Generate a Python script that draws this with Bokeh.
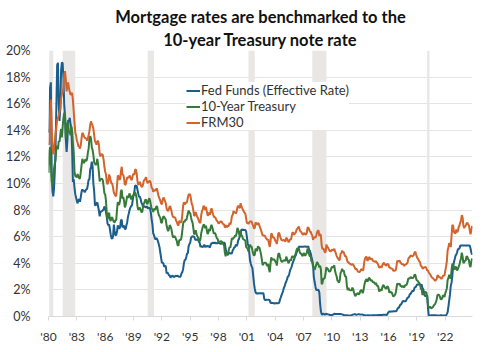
from bokeh.plotting import figure
from bokeh.models import Title, BoxAnnotation, FixedTicker, Legend, LegendItem
from bokeh.embed import file_html
from bokeh.resources import INLINE
import numpy as np

start_year = 1980

fed_funds = [
    13.82, 14.13, 17.19, 17.61, 10.98, 9.47, 9.03, 9.61, 10.87, 12.81, 15.85, 18.90,
    19.08, 15.93, 14.70, 15.72, 18.52, 19.10, 19.04, 17.82, 15.87, 15.08, 13.31, 12.37,
    13.22, 14.78, 14.68, 14.94, 14.45, 14.15, 12.59, 10.12, 10.31, 9.71, 9.20, 8.95,
    8.68, 8.51, 8.77, 8.80, 8.63, 8.98, 9.37, 9.56, 9.45, 9.48, 9.34, 9.47,
    9.56, 9.59, 9.91, 10.29, 10.32, 11.06, 11.23, 11.64, 11.30, 9.99, 9.43, 8.38,
    8.35, 8.50, 8.58, 8.27, 7.97, 7.53, 7.88, 7.90, 7.92, 7.99, 8.05, 8.27,
    8.14, 7.86, 7.48, 6.99, 6.85, 6.92, 6.56, 6.17, 5.89, 5.85, 6.04, 6.91,
    6.43, 6.10, 6.13, 6.37, 6.85, 6.73, 6.58, 6.73, 7.22, 7.29, 6.69, 6.77,
    6.83, 6.58, 6.58, 6.87, 7.09, 7.51, 7.75, 8.01, 8.19, 8.30, 8.35, 8.76,
    9.12, 9.36, 9.85, 9.84, 9.81, 9.53, 9.24, 8.99, 9.02, 8.84, 8.55, 8.45,
    8.23, 8.24, 8.28, 8.26, 8.18, 8.29, 8.15, 8.13, 8.20, 8.11, 7.81, 7.31,
    6.91, 6.25, 6.12, 5.91, 5.78, 5.90, 5.82, 5.66, 5.45, 5.21, 4.81, 4.43,
    4.03, 4.06, 3.98, 3.73, 3.82, 3.76, 3.25, 3.30, 3.22, 3.10, 3.09, 2.92,
    3.02, 3.03, 3.07, 2.96, 3.00, 3.04, 3.06, 3.03, 3.09, 2.99, 3.02, 2.96,
    3.05, 3.25, 3.34, 3.56, 4.01, 4.25, 4.26, 4.47, 4.73, 4.76, 5.29, 5.45,
    5.53, 5.92, 5.98, 6.05, 6.01, 6.00, 5.85, 5.74, 5.80, 5.76, 5.80, 5.60,
    5.56, 5.22, 5.31, 5.22, 5.24, 5.27, 5.40, 5.22, 5.30, 5.24, 5.31, 5.29,
    5.25, 5.19, 5.39, 5.51, 5.50, 5.56, 5.52, 5.54, 5.54, 5.50, 5.52, 5.50,
    5.56, 5.51, 5.49, 5.45, 5.49, 5.56, 5.54, 5.55, 5.51, 5.07, 4.83, 4.68,
    4.63, 4.76, 4.81, 4.74, 4.74, 4.76, 4.99, 5.07, 5.22, 5.20, 5.42, 5.30,
    5.45, 5.73, 5.85, 6.02, 6.27, 6.53, 6.54, 6.50, 6.52, 6.51, 6.51, 6.40,
    5.98, 5.49, 5.31, 4.80, 4.21, 3.97, 3.77, 3.65, 3.07, 2.49, 2.09, 1.82,
    1.73, 1.74, 1.73, 1.75, 1.75, 1.75, 1.73, 1.74, 1.75, 1.75, 1.34, 1.24,
    1.24, 1.26, 1.25, 1.26, 1.26, 1.22, 1.01, 1.03, 1.01, 1.01, 1.00, 0.98,
    1.00, 1.01, 1.00, 1.00, 1.00, 1.03, 1.26, 1.43, 1.61, 1.76, 1.93, 2.16,
    2.28, 2.50, 2.63, 2.79, 3.00, 3.04, 3.26, 3.50, 3.62, 3.78, 4.00, 4.16,
    4.29, 4.49, 4.59, 4.79, 4.94, 4.99, 5.24, 5.25, 5.25, 5.25, 5.25, 5.24,
    5.25, 5.26, 5.26, 5.25, 5.25, 5.25, 5.26, 5.02, 4.94, 4.76, 4.49, 4.24,
    3.94, 2.98, 2.61, 2.28, 1.98, 2.00, 2.01, 2.00, 1.81, 0.97, 0.39, 0.16,
    0.15, 0.22, 0.18, 0.15, 0.18, 0.21, 0.16, 0.16, 0.15, 0.12, 0.12, 0.12,
    0.11, 0.13, 0.16, 0.20, 0.20, 0.18, 0.18, 0.19, 0.19, 0.19, 0.19, 0.18,
    0.17, 0.16, 0.14, 0.10, 0.09, 0.09, 0.07, 0.10, 0.08, 0.07, 0.08, 0.07,
    0.08, 0.10, 0.13, 0.14, 0.16, 0.16, 0.16, 0.13, 0.14, 0.16, 0.16, 0.16,
    0.14, 0.15, 0.14, 0.15, 0.11, 0.09, 0.09, 0.08, 0.08, 0.09, 0.08, 0.09,
    0.07, 0.07, 0.08, 0.09, 0.09, 0.10, 0.09, 0.09, 0.09, 0.09, 0.09, 0.12,
    0.11, 0.11, 0.11, 0.12, 0.12, 0.13, 0.13, 0.14, 0.14, 0.12, 0.12, 0.24,
    0.34, 0.38, 0.36, 0.37, 0.37, 0.38, 0.39, 0.40, 0.40, 0.40, 0.41, 0.54,
    0.65, 0.66, 0.79, 0.90, 0.91, 1.04, 1.15, 1.16, 1.15, 1.15, 1.16, 1.30,
    1.41, 1.42, 1.51, 1.69, 1.70, 1.82, 1.91, 1.91, 1.95, 2.19, 2.20, 2.27,
    2.40, 2.40, 2.41, 2.42, 2.39, 2.38, 2.40, 2.13, 2.04, 1.83, 1.55, 1.55,
    1.55, 1.58, 0.65, 0.05, 0.05, 0.08, 0.09, 0.10, 0.09, 0.09, 0.09, 0.09,
    0.09, 0.08, 0.07, 0.07, 0.06, 0.08, 0.10, 0.09, 0.08, 0.08, 0.08, 0.08,
    0.08, 0.08, 0.20, 0.33, 0.77, 1.21, 1.68, 2.33, 2.56, 3.08, 3.78, 4.10,
    4.33, 4.57, 4.65, 4.83, 5.06, 5.08, 5.12, 5.33, 5.33, 5.33, 5.33, 5.33,
    5.33, 5.33, 5.33, 5.33, 5.33, 5.33, 5.33, 5.33, 5.13, 4.83, 4.64,
]

treasury_10y = [
    10.80, 12.41, 12.75, 11.47, 10.18, 9.78, 10.25, 11.10, 11.51, 11.75, 12.68, 12.84,
    12.57, 13.19, 13.12, 13.68, 14.10, 13.47, 14.28, 14.94, 15.32, 15.15, 13.39, 13.72,
    14.59, 14.43, 13.86, 13.87, 13.62, 14.30, 13.95, 13.06, 12.34, 10.91, 10.55, 10.54,
    10.46, 10.72, 10.51, 10.40, 10.38, 10.85, 11.38, 11.85, 11.65, 11.54, 11.69, 11.83,
    11.67, 11.84, 12.32, 12.63, 13.41, 13.56, 13.36, 12.72, 12.52, 12.16, 11.57, 11.50,
    11.38, 11.51, 11.86, 11.43, 10.85, 10.16, 10.31, 10.33, 10.37, 10.24, 9.78, 9.26,
    9.19, 8.70, 7.78, 7.30, 7.71, 7.80, 7.30, 7.17, 7.45, 7.43, 7.25, 7.11,
    7.08, 7.25, 7.25, 8.02, 8.61, 8.40, 8.45, 8.76, 9.42, 9.52, 8.86, 8.99,
    8.67, 8.21, 8.37, 8.72, 9.09, 8.92, 9.06, 9.26, 8.98, 8.80, 8.96, 9.11,
    9.09, 9.17, 9.36, 9.18, 8.86, 8.28, 8.02, 8.11, 8.19, 8.01, 7.87, 7.84,
    8.21, 8.47, 8.59, 8.79, 8.76, 8.48, 8.47, 8.75, 8.89, 8.72, 8.39, 8.08,
    8.09, 7.85, 8.11, 8.04, 8.07, 8.28, 8.27, 7.90, 7.65, 7.53, 7.42, 7.09,
    7.03, 7.34, 7.54, 7.48, 7.39, 7.26, 6.84, 6.59, 6.42, 6.59, 6.87, 6.77,
    6.60, 6.26, 5.98, 5.97, 6.04, 5.96, 5.81, 5.68, 5.36, 5.33, 5.72, 5.77,
    5.75, 5.97, 6.48, 6.97, 7.18, 7.10, 7.30, 7.24, 7.46, 7.74, 7.96, 7.81,
    7.78, 7.47, 7.20, 7.06, 6.63, 6.17, 6.28, 6.49, 6.20, 6.04, 5.93, 5.71,
    5.65, 5.81, 6.27, 6.51, 6.74, 6.91, 6.87, 6.64, 6.83, 6.53, 6.20, 6.30,
    6.58, 6.42, 6.69, 6.89, 6.71, 6.49, 6.22, 6.30, 6.21, 6.03, 5.88, 5.81,
    5.54, 5.57, 5.65, 5.64, 5.65, 5.50, 5.46, 5.34, 4.81, 4.53, 4.83, 4.65,
    4.72, 5.00, 5.23, 5.18, 5.54, 5.90, 5.79, 5.94, 5.92, 6.11, 6.03, 6.28,
    6.66, 6.52, 6.26, 5.99, 6.44, 6.10, 6.05, 5.83, 5.80, 5.74, 5.72, 5.24,
    5.16, 5.10, 4.89, 5.14, 5.39, 5.28, 5.24, 4.97, 4.73, 4.57, 4.65, 5.09,
    5.04, 4.91, 5.28, 5.21, 5.16, 4.93, 4.65, 4.26, 3.87, 3.94, 4.05, 4.03,
    4.05, 3.90, 3.81, 3.96, 3.57, 3.33, 3.98, 4.45, 4.27, 4.29, 4.30, 4.27,
    4.15, 4.08, 3.83, 4.35, 4.72, 4.73, 4.50, 4.28, 4.13, 4.10, 4.19, 4.23,
    4.22, 4.17, 4.50, 4.34, 4.14, 4.00, 4.18, 4.26, 4.20, 4.46, 4.54, 4.47,
    4.42, 4.57, 4.72, 4.99, 5.11, 5.11, 5.09, 4.88, 4.72, 4.73, 4.60, 4.56,
    4.76, 4.72, 4.56, 4.69, 4.75, 5.10, 5.00, 4.67, 4.52, 4.53, 4.15, 4.10,
    3.74, 3.74, 3.51, 3.68, 3.88, 4.10, 4.01, 3.89, 3.69, 3.81, 3.53, 2.42,
    2.52, 2.87, 2.82, 2.93, 3.29, 3.72, 3.56, 3.59, 3.40, 3.39, 3.40, 3.59,
    3.73, 3.69, 3.73, 3.85, 3.42, 3.20, 3.01, 2.70, 2.65, 2.54, 2.76, 3.29,
    3.39, 3.58, 3.41, 3.46, 3.17, 3.00, 3.00, 2.30, 1.98, 2.15, 2.01, 1.98,
    1.97, 1.97, 2.17, 2.05, 1.80, 1.62, 1.53, 1.68, 1.72, 1.75, 1.65, 1.72,
    1.91, 1.98, 1.96, 1.76, 1.93, 2.30, 2.58, 2.74, 2.81, 2.62, 2.72, 2.90,
    2.86, 2.71, 2.72, 2.71, 2.56, 2.60, 2.54, 2.42, 2.53, 2.30, 2.33, 2.21,
    1.88, 1.98, 2.04, 1.94, 2.20, 2.36, 2.32, 2.17, 2.17, 2.07, 2.26, 2.24,
    2.09, 1.78, 1.89, 1.81, 1.81, 1.64, 1.50, 1.56, 1.63, 1.76, 2.14, 2.49,
    2.43, 2.42, 2.48, 2.30, 2.30, 2.19, 2.32, 2.21, 2.20, 2.36, 2.35, 2.40,
    2.58, 2.86, 2.84, 2.87, 2.98, 2.91, 2.89, 2.89, 3.00, 3.15, 3.12, 2.83,
    2.71, 2.68, 2.57, 2.53, 2.40, 2.07, 2.06, 1.63, 1.70, 1.71, 1.81, 1.86,
    1.76, 1.50, 0.87, 0.66, 0.67, 0.73, 0.62, 0.65, 0.68, 0.79, 0.87, 0.93,
    1.08, 1.26, 1.61, 1.64, 1.62, 1.52, 1.32, 1.28, 1.37, 1.58, 1.56, 1.47,
    1.76, 1.93, 2.13, 2.75, 2.90, 3.14, 2.90, 2.90, 3.52, 3.98, 3.89, 3.62,
    3.53, 3.75, 3.66, 3.46, 3.57, 3.75, 3.90, 4.17, 4.38, 4.80, 4.50, 4.02,
    4.06, 4.21, 4.21, 4.54, 4.48, 4.31, 4.25, 3.87, 3.72, 4.10, 4.36,
]

frm30 = [
    12.88, 13.04, 15.28, 16.32, 14.26, 12.71, 12.19, 12.56, 13.20, 13.79, 14.21, 14.79,
    14.90, 15.13, 15.40, 15.58, 16.40, 16.70, 16.83, 17.29, 18.16, 18.45, 17.83, 16.92,
    17.40, 17.60, 17.16, 16.89, 16.68, 16.70, 16.82, 16.27, 15.43, 14.61, 13.83, 13.62,
    13.25, 13.04, 12.80, 12.78, 12.63, 12.87, 13.42, 13.81, 13.73, 13.54, 13.44, 13.42,
    13.37, 13.23, 13.39, 13.65, 13.94, 14.42, 14.67, 14.47, 14.35, 14.13, 13.64, 13.18,
    13.08, 12.92, 13.17, 13.20, 12.91, 12.22, 12.03, 12.19, 12.19, 12.14, 11.78, 11.26,
    10.88, 10.71, 10.08, 9.94, 10.14, 10.68, 10.51, 10.20, 10.01, 9.98, 9.70, 9.32,
    9.20, 9.08, 9.04, 9.83, 10.60, 10.54, 10.28, 10.33, 10.89, 11.26, 10.65, 10.64,
    10.38, 9.89, 9.93, 10.20, 10.46, 10.46, 10.43, 10.60, 10.48, 10.30, 10.27, 10.61,
    10.73, 10.65, 11.03, 11.05, 10.77, 10.20, 9.88, 9.99, 10.13, 9.95, 9.77, 9.74,
    9.90, 10.20, 10.27, 10.37, 10.48, 10.16, 10.04, 10.10, 10.18, 10.18, 10.01, 9.67,
    9.64, 9.37, 9.50, 9.49, 9.47, 9.62, 9.58, 9.24, 9.01, 8.86, 8.71, 8.50,
    8.43, 8.76, 8.94, 8.85, 8.67, 8.51, 8.13, 7.98, 7.92, 8.09, 8.31, 8.22,
    7.99, 7.68, 7.50, 7.47, 7.47, 7.42, 7.21, 7.11, 6.92, 6.83, 7.16, 7.17,
    7.06, 7.15, 7.68, 8.32, 8.60, 8.40, 8.61, 8.51, 8.64, 8.93, 9.17, 9.20,
    9.15, 8.83, 8.46, 8.32, 7.96, 7.57, 7.61, 7.86, 7.64, 7.48, 7.38, 7.20,
    7.03, 7.08, 7.62, 7.93, 8.07, 8.32, 8.25, 8.00, 8.23, 7.92, 7.62, 7.60,
    7.82, 7.65, 7.90, 8.14, 7.94, 7.69, 7.50, 7.48, 7.43, 7.29, 7.21, 7.10,
    6.99, 7.04, 7.13, 7.14, 7.14, 7.00, 6.95, 6.92, 6.72, 6.71, 6.87, 6.72,
    6.79, 6.81, 7.04, 6.92, 7.15, 7.55, 7.63, 7.94, 7.82, 7.85, 7.74, 7.91,
    8.21, 8.33, 8.24, 8.15, 8.52, 8.29, 8.15, 8.03, 7.91, 7.80, 7.75, 7.38,
    7.03, 7.05, 6.95, 7.08, 7.15, 7.16, 7.13, 6.95, 6.82, 6.62, 6.66, 7.07,
    7.00, 6.89, 7.01, 6.99, 6.81, 6.65, 6.49, 6.29, 6.09, 6.11, 6.07, 6.05,
    5.92, 5.84, 5.75, 5.81, 5.48, 5.23, 5.63, 6.26, 6.15, 5.95, 5.93, 5.88,
    5.71, 5.64, 5.45, 5.83, 6.27, 6.29, 6.06, 5.87, 5.75, 5.72, 5.73, 5.75,
    5.71, 5.63, 5.93, 5.86, 5.72, 5.58, 5.70, 5.82, 5.77, 6.07, 6.33, 6.27,
    6.15, 6.25, 6.32, 6.51, 6.60, 6.68, 6.76, 6.52, 6.40, 6.36, 6.24, 6.14,
    6.22, 6.29, 6.16, 6.18, 6.26, 6.66, 6.70, 6.57, 6.38, 6.38, 6.21, 6.10,
    5.76, 5.92, 5.97, 5.92, 6.04, 6.32, 6.43, 6.48, 6.04, 6.20, 6.09, 5.33,
    5.06, 5.13, 5.00, 4.81, 4.86, 5.42, 5.22, 5.19, 5.06, 4.95, 4.88, 4.93,
    5.03, 4.99, 4.97, 5.10, 4.89, 4.74, 4.56, 4.43, 4.35, 4.23, 4.30, 4.71,
    4.76, 4.95, 4.84, 4.84, 4.64, 4.51, 4.55, 4.27, 4.11, 4.07, 3.99, 3.96,
    3.92, 3.89, 3.95, 3.91, 3.80, 3.68, 3.55, 3.60, 3.50, 3.38, 3.35, 3.35,
    3.41, 3.53, 3.57, 3.45, 3.54, 4.07, 4.37, 4.46, 4.49, 4.19, 4.26, 4.46,
    4.43, 4.30, 4.34, 4.34, 4.19, 4.16, 4.13, 4.12, 4.16, 4.04, 4.00, 3.86,
    3.67, 3.71, 3.77, 3.67, 3.84, 3.98, 4.05, 3.91, 3.89, 3.80, 3.94, 3.96,
    3.87, 3.66, 3.69, 3.61, 3.60, 3.57, 3.44, 3.44, 3.46, 3.47, 3.77, 4.20,
    4.15, 4.17, 4.20, 4.05, 4.01, 3.90, 3.97, 3.88, 3.81, 3.90, 3.92, 3.95,
    4.03, 4.33, 4.44, 4.47, 4.59, 4.57, 4.53, 4.55, 4.63, 4.83, 4.87, 4.64,
    4.46, 4.37, 4.27, 4.14, 4.07, 3.80, 3.77, 3.62, 3.61, 3.69, 3.70, 3.72,
    3.62, 3.47, 3.45, 3.31, 3.23, 3.16, 3.02, 2.94, 2.89, 2.83, 2.77, 2.68,
    2.74, 2.81, 3.08, 3.06, 2.96, 2.98, 2.87, 2.84, 2.90, 3.07, 3.07, 3.10,
    3.45, 3.76, 4.17, 4.98, 5.23, 5.52, 5.41, 5.22, 6.11, 6.90, 6.81, 6.36,
    6.27, 6.26, 6.54, 6.34, 6.43, 6.71, 6.84, 7.07, 7.20, 7.62, 7.44, 6.82,
    6.64, 6.78, 6.82, 7.00, 7.06, 6.92, 6.85, 6.50, 6.18, 6.43, 6.81,
]

recession_start = [1980.08, 1981.50, 1990.50, 2001.17, 2007.92, 2020.08]
recession_end = [1980.50, 1982.83, 1991.17, 2001.83, 2009.42, 2020.33]

series_names = ["Fed Funds (Effective Rate)", "10-Year Treasury", "FRM30"]
series_colors = ["#1b5d8c", "#367a3a", "#d2642c"]

x_ticks = [1980, 1983, 1986, 1989, 1992, 1995, 1998, 2001, 2004, 2007, 2010, 2013, 2016, 2019, 2022]
x_tick_labels = ["'80", "'83", "'86", "'89", "'92", "'95", "'98", "'01", "'04", "'07", "'10", "'13", "'16", "'19", "'22"]
y_ticks = [0, 2, 4, 6, 8, 10, 12, 14, 16, 18, 20]
y_tick_labels = ["0%", "2%", "4%", "6%", "8%", "10%", "12%", "14%", "16%", "18%", "20%"]

title_line1 = "Mortgage rates are benchmarked to the"
title_line2 = "10-year Treasury note rate"

FONT = "Lato"

p = figure(width=487, height=352, output_backend="svg", toolbar_location=None,
           x_range=(1980.0, 2024.88), y_range=(0, 20),
           min_border_left=48, min_border_right=15, min_border_top=50, min_border_bottom=36)
p.title = None
p.outline_line_color = None
p.background_fill_color = "white"
p.border_fill_color = "white"

t2 = Title(text=title_line2, align="center", text_font=FONT, text_font_size="16.5px",
           text_font_style="bold", text_color="#111111", standoff=2)
t1 = Title(text=title_line1, align="center", text_font=FONT, text_font_size="16.5px",
           text_font_style="bold", text_color="#111111", standoff=0)
p.add_layout(t2, "above")
p.add_layout(t1, "above")

for s, e in zip(recession_start, recession_end):
    p.add_layout(BoxAnnotation(left=s, right=e, fill_color="#e9e7e6", fill_alpha=1.0,
                               line_color=None, level="underlay"))

def xs(n):
    return start_year + np.arange(n) / 12.0

renderers = []
for vals, color in zip([fed_funds, treasury_10y, frm30], series_colors):
    r = p.line(xs(len(vals)), vals, line_color=color, line_width=2)
    renderers.append(r)

p.xgrid.grid_line_color = None
p.ygrid.grid_line_color = "#e4e4e4"
p.ygrid.grid_line_width = 1

p.xaxis.ticker = FixedTicker(ticks=x_ticks)
p.xaxis.major_label_overrides = {t: l for t, l in zip(x_ticks, x_tick_labels)}
p.xaxis.axis_line_color = "#d9d9d9"
p.xaxis.major_tick_line_color = "#d9d9d9"
p.xaxis.major_tick_out = 4
p.xaxis.major_tick_in = 0
p.xaxis.minor_tick_line_color = None
p.xaxis.major_label_standoff = 8
p.xaxis.major_label_text_font = FONT
p.xaxis.major_label_text_font_size = "12px"
p.xaxis.major_label_text_color = "#333333"

p.yaxis.ticker = FixedTicker(ticks=y_ticks)
p.yaxis.major_label_overrides = {t: l for t, l in zip(y_ticks, y_tick_labels)}
p.yaxis.axis_line_color = None
p.yaxis.major_tick_line_color = None
p.yaxis.minor_tick_line_color = None
p.yaxis.major_label_standoff = 12
p.yaxis.major_label_text_font = FONT
p.yaxis.major_label_text_font_size = "12.5px"
p.yaxis.major_label_text_color = "#333333"

legend = Legend(items=[LegendItem(label=n, renderers=[r]) for n, r in zip(series_names, renderers)],
                location=(138, 186), orientation="vertical")
legend.border_line_color = None
legend.background_fill_color = "white"
legend.background_fill_alpha = 1.0
legend.padding = 2
legend.margin = 0
legend.spacing = 0
legend.glyph_width = 14
legend.glyph_height = 15
legend.label_height = 15
legend.label_standoff = 1
legend.label_text_font = FONT
legend.label_text_font_size = "13px"
legend.label_text_color = "#333333"
p.add_layout(legend, "center")

open("out.html", "w").write(file_html(p, INLINE))
